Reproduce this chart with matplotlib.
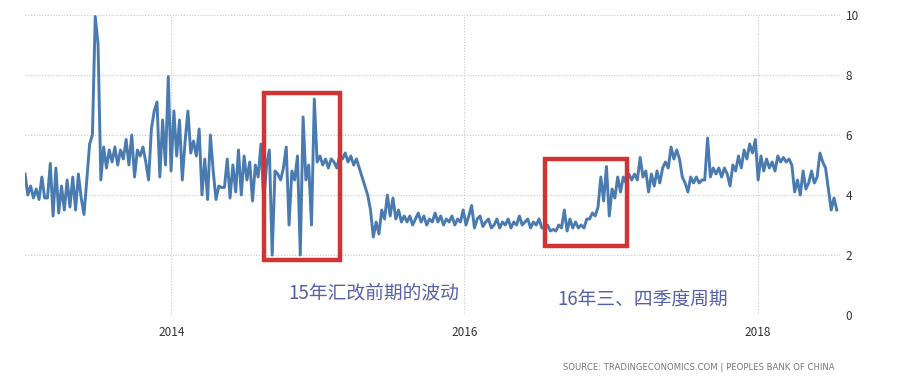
import pandas as pd
import matplotlib.pyplot as plt
from matplotlib.patches import Rectangle
import matplotlib.dates as mdates

plt.rcParams['font.family'] = ['Noto Sans CJK SC', 'DejaVu Sans']

# weekly values, one list per year
v2013 = [4.7, 4.0, 4.3, 3.9, 4.2, 3.85, 4.6, 3.9, 3.9, 5.05, 3.3, 4.9, 3.4, 4.3, 3.5, 4.5,
         3.6, 4.6, 3.5, 4.7, 3.9, 3.35, 4.5, 5.7, 6.0, 9.95, 9.05, 4.5, 5.6, 4.9, 5.5, 5.1,
         5.6, 5.0, 5.5, 5.2, 5.85, 5.0, 6.0, 4.6, 5.5, 5.3, 5.6, 5.1, 4.5, 6.2, 6.8, 7.1,
         4.6, 6.5, 5.0, 7.95]
v2014 = [4.8, 6.8, 5.3, 6.5, 4.5, 5.8, 6.8, 5.4, 5.8, 5.3, 6.2, 4.0, 5.2, 3.85, 6.0, 4.8,
         3.85, 4.3, 4.25, 4.25, 5.2, 3.9, 5.0, 4.1, 5.5, 4.0, 5.3, 4.5, 5.1, 3.8, 5.0, 4.6,
         5.7, 3.8, 5.0, 5.5, 2.0, 4.8, 4.7, 4.5, 4.9, 5.6, 3.0, 4.8, 4.5, 5.3, 2.0, 6.6,
         4.5, 5.0, 3.0, 7.2]
v2015 = [5.1, 5.3, 5.0, 5.2, 4.9, 5.2, 5.1, 4.9, 5.3, 5.2, 5.4, 5.1, 5.3, 5.0, 5.2, 4.9,
         4.6, 4.3, 4.0, 3.5, 2.6, 3.1, 2.7, 3.5, 3.2, 4.0, 3.3, 3.9, 3.2, 3.5, 3.1, 3.3,
         3.1, 3.3, 3.0, 3.2, 3.4, 3.1, 3.3, 3.0, 3.2, 3.1, 3.4, 3.1, 3.3, 3.0, 3.2, 3.1,
         3.3, 3.0, 3.2, 3.1]
v2016 = [3.5, 3.0, 3.3, 3.65, 2.9, 3.2, 3.3, 2.95, 3.1, 3.2, 2.9, 3.0, 3.2, 2.9, 3.1, 3.0,
         3.2, 2.9, 3.1, 3.0, 3.3, 3.0, 3.1, 3.2, 2.9, 3.1, 3.0, 3.2, 2.9, 2.9, 3.0, 2.8,
         2.85, 2.8, 3.0, 2.9, 3.5, 2.8, 3.2, 2.9, 3.1, 2.9, 3.0, 2.9, 3.2, 3.2, 3.4, 3.3,
         3.6, 4.6, 3.8, 4.95]
v2017 = [3.3, 4.2, 3.9, 4.6, 4.1, 4.6, 4.4, 4.7, 4.5, 4.7, 4.5, 5.25, 4.6, 4.8, 4.1, 4.7,
         4.3, 4.8, 4.4, 4.9, 5.1, 4.9, 5.6, 5.2, 5.5, 5.2, 4.6, 4.4, 4.1, 4.6, 4.4, 4.6,
         4.4, 4.5, 4.5, 5.9, 4.6, 4.9, 4.7, 4.9, 4.6, 4.9, 4.7, 4.3, 5.0, 4.8, 5.3, 4.9,
         5.5, 5.2, 5.7, 5.4]
v2018 = [5.85, 4.5, 5.3, 4.8, 5.2, 4.9, 5.1, 4.8, 5.3, 5.1, 5.25, 5.1, 5.2, 5.0, 4.1, 4.5,
         4.0, 4.8, 4.2, 4.4, 4.8, 4.4, 4.6, 5.4, 5.1, 4.9, 4.2, 3.5, 3.9, 3.5]

values = v2013 + v2014 + v2015 + v2016 + v2017 + v2018
dates = pd.date_range("2013-01-01", periods=len(values), freq="7D")

year_ticks = pd.to_datetime(["2014-01-01", "2016-01-01", "2018-01-01"])
tick_labels = ["2014", "2016", "2018"]

# highlighted periods: start, end, low, high
boxes = [("2014-08-20", "2015-02-25", 1.85, 7.4),
         ("2016-07-20", "2017-02-10", 2.3, 5.2)]
notes = [("2014-10-20", 0.73, "15年汇改前期的波动"),
         ("2016-08-20", 0.5, "16年三、四季度周期")]

fig = plt.figure(figsize=(9.02, 3.84), dpi=100)
ax = fig.add_axes([25 / 902, 69 / 384, 815 / 902, 300 / 384])

ax.plot(dates, values, color="#4a7bb0", linewidth=2.1)

for start, end, lo, hi in boxes:
    x0 = mdates.date2num(pd.Timestamp(start))
    x1 = mdates.date2num(pd.Timestamp(end))
    ax.add_patch(Rectangle((x0, lo), x1 - x0, hi - lo, fill=False,
                           edgecolor="#d03434", linewidth=3.2, zorder=3))

for d, y, txt in notes:
    ax.text(pd.Timestamp(d), y, txt, fontsize=13.5, color="#5560a8", va="center")

ax.set_xlim(pd.Timestamp("2013-01-01"), pd.Timestamp("2018-07-25"))
ax.set_ylim(0, 10)
ax.set_yticks([0, 2, 4, 6, 8, 10])
ax.set_xticks(year_ticks)
ax.set_xticklabels(tick_labels)
ax.yaxis.tick_right()
ax.tick_params(axis="both", length=0, labelsize=8.5, colors="#333333")
ax.tick_params(axis="y", pad=4)
ax.tick_params(axis="x", pad=8)
ax.grid(True, linestyle=(0, (1, 1.5)), color="#c8c8c8", linewidth=0.8)
for s in ax.spines.values():
    s.set_visible(False)

fig.text(835 / 902, 1 - 367 / 384, "SOURCE: TRADINGECONOMICS.COM | PEOPLES BANK OF CHINA",
         ha="right", va="center", fontsize=6.1, color="#777777", family="DejaVu Sans")

fig.savefig("out.png", dpi=100)
